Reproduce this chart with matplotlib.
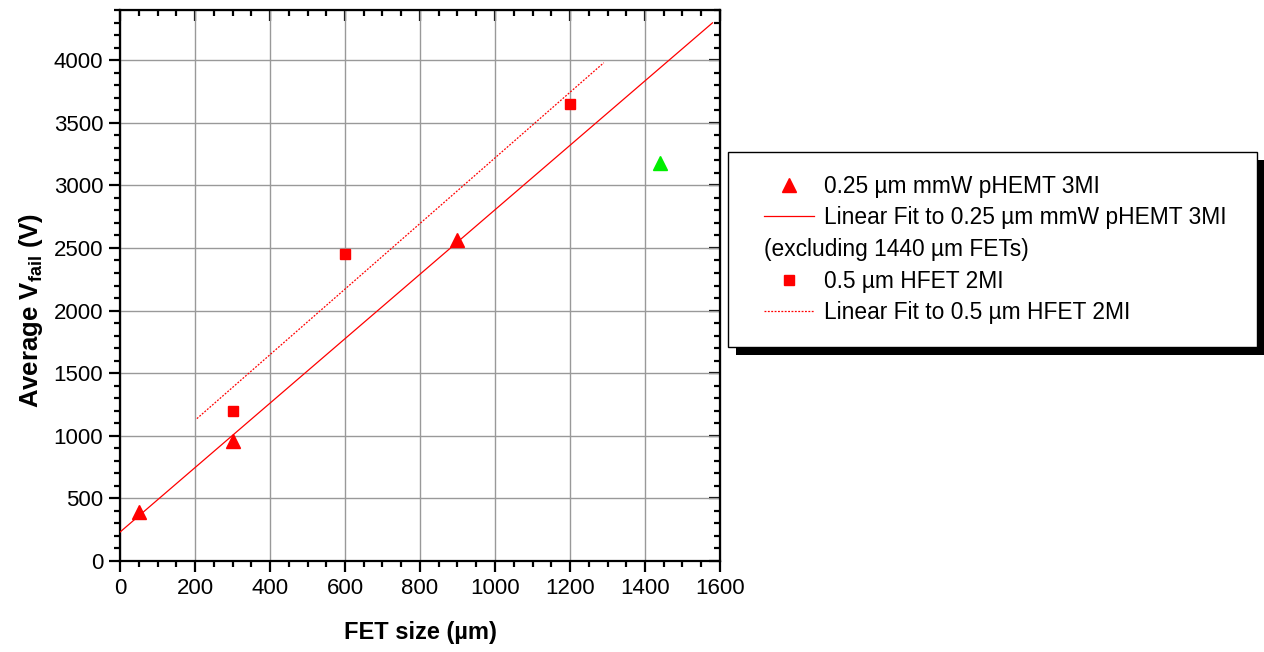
import numpy as np
import matplotlib
matplotlib.use('Agg')
import matplotlib.pyplot as plt
from matplotlib.lines import Line2D
from matplotlib.patches import Rectangle
from matplotlib.transforms import IdentityTransform
from matplotlib.ticker import MultipleLocator
from matplotlib.offsetbox import DrawingArea

plt.rcParams['font.family'] = ['Liberation Sans', 'DejaVu Sans']
plt.rcParams['mathtext.fontset'] = 'custom'
plt.rcParams['mathtext.rm'] = 'Liberation Sans'
plt.rcParams['mathtext.bf'] = 'Liberation Sans:bold'

# 0.25 um mmW pHEMT 3MI
phemt_size = [50, 300, 900]
phemt_vfail = [390, 960, 2560]
# 1440 um FETs (left out of the fit)
excl_size = [1440]
excl_vfail = [3180]
# 0.5 um HFET 2MI
hfet_size = [300, 600, 1200]
hfet_vfail = [1200, 2450, 3650]
# x span over which each fit line is drawn
phemt_fit_span = [0, 1580]
hfet_fit_span = [205, 1290]

p_phemt = np.polyfit(phemt_size, phemt_vfail, 1)
p_hfet = np.polyfit(hfet_size, hfet_vfail, 1)

RED = '#ff0000'
GREEN = '#00ee00'
FS = 16
LEG_FS = 16.4
DOTS = (0, (1.5, 1.2))

fig = plt.figure(figsize=(12.64, 6.52), dpi=100, facecolor='white')
ax = fig.add_axes([120 / 1264, 91 / 652, 600 / 1264, 551 / 652])

xs = np.array(phemt_fit_span)
ax.plot(xs, np.polyval(p_phemt, xs), color=RED, lw=0.9, zorder=3)
xs = np.array(hfet_fit_span)
ax.plot(xs, np.polyval(p_hfet, xs), color=RED, lw=0.9, ls=DOTS, zorder=3)
ax.plot(phemt_size, phemt_vfail, '^', color=RED, ms=10, mec=RED, zorder=4)
ax.plot(excl_size, excl_vfail, '^', color=GREEN, ms=10, mec=GREEN, zorder=4)
ax.plot(hfet_size, hfet_vfail, 's', color=RED, ms=7.5, mec=RED, zorder=4)

ax.set_xlim(0, 1600)
ax.set_ylim(0, 4400)
ax.xaxis.set_major_locator(MultipleLocator(200))
ax.xaxis.set_minor_locator(MultipleLocator(50))
ax.yaxis.set_major_locator(MultipleLocator(500))
ax.yaxis.set_minor_locator(MultipleLocator(100))
ax.grid(True, which='major', color='#999999', lw=1)
ax.set_axisbelow(True)

for s in ax.spines.values():
    s.set_linewidth(1.6)
ax.tick_params(which='major', direction='out', length=8, width=1.6, labelsize=FS, pad=4)
ax.tick_params(which='minor', direction='out', length=4, width=1.6)

# inward ticks on the top and right edges
top = ax.secondary_xaxis('top')
top.xaxis.set_major_locator(MultipleLocator(200))
top.xaxis.set_minor_locator(MultipleLocator(50))
top.tick_params(which='major', direction='in', length=8, width=1.6, labeltop=False)
top.tick_params(which='minor', direction='in', length=4, width=1.6)
right = ax.secondary_yaxis('right')
right.yaxis.set_major_locator(MultipleLocator(500))
right.yaxis.set_minor_locator(MultipleLocator(100))
right.tick_params(which='major', direction='in', length=8, width=1.6, labelright=False)
right.tick_params(which='minor', direction='in', length=4, width=1.6)

ax.set_xlabel('FET size (\u00b5m)', fontsize=17, fontweight='bold', labelpad=16)
ax.set_ylabel(r'Average V$_{\mathbf{fail}}$ (V)', fontsize=18.5, fontweight='bold')
ax.yaxis.set_label_coords(-0.125, 0.454)

handles = [
    Line2D([], [], ls='none', marker='^', color=RED, ms=10),
    Line2D([], [], color=RED, lw=0.9),
    Line2D([], [], ls='none'),
    Line2D([], [], ls='none', marker='s', color=RED, ms=7.5),
    Line2D([], [], color=RED, lw=0.9, ls=DOTS),
]
labels = [
    '0.25 \u00b5m mmW pHEMT 3MI',
    'Linear Fit to 0.25 \u00b5m mmW pHEMT 3MI',
    '(excluding 1440 \u00b5m FETs)',
    '0.5 \u00b5m HFET 2MI',
    'Linear Fit to 0.5 \u00b5m HFET 2MI',
]
leg = fig.legend(handles, labels, loc='upper left', bbox_to_anchor=(728 / 1264, 1 - 152 / 652),
                 borderaxespad=0, fontsize=LEG_FS, frameon=True, fancybox=False, framealpha=1,
                 edgecolor='black', handlelength=2.2, handletextpad=0.45, labelspacing=0.38,
                 borderpad=1.0, columnspacing=0, numpoints=1)
leg.get_frame().set_linewidth(1.0)
leg.set_zorder(5)

# the "(excluding ...)" line starts under the handles, not the text column
rows = leg._legend_handle_box.get_children()[0].get_children()
rows[2].get_children()[0].width = 0
rows[2].sep = 0
# extra padding at the left and right only
leg._legend_handle_box._children.insert(0, DrawingArea(9.4, 0))
leg._legend_handle_box._children.append(DrawingArea(5.5, 0))

fig.canvas.draw()
bb = leg.get_window_extent()
shadow = Rectangle((bb.x0 + 8, bb.y0 - 8), bb.width, bb.height, transform=IdentityTransform(),
                   facecolor='black', edgecolor='none', zorder=4)
fig.add_artist(shadow)

fig.savefig('out.png', dpi=100)
